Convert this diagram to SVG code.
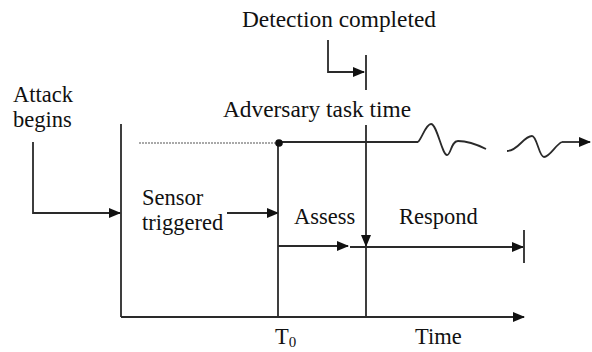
<svg xmlns="http://www.w3.org/2000/svg" width="592" height="352" viewBox="0 0 592 352">
<defs>
<marker id="ah" markerWidth="12" markerHeight="10" refX="11" refY="5" orient="auto" markerUnits="userSpaceOnUse">
<path d="M0,0 L12,5 L0,10 Z" fill="#111"/>
</marker>
<style>
.t{font-family:"Liberation Serif","Times New Roman",serif;font-size:22.5px;fill:#111}
.l{stroke:#2a2a2a;stroke-width:1.8;fill:none}
.a{stroke:#2a2a2a;stroke-width:1.8;fill:none;marker-end:url(#ah)}
</style>
</defs>
<rect width="592" height="352" fill="#fff"/>
<g id="axes">
<path class="l" d="M121,124 V317"/>
<path class="a" d="M121,317 H524"/>
</g>
<g id="connectors">
<path class="a" d="M33,142 V213 H120"/>
<path class="a" d="M227,213 H278"/>
<path class="l" d="M278,143 V317"/>
<path d="M139,143 H278" stroke="#555" stroke-width="1.2" stroke-dasharray="2,1"/>
<path class="l" d="M279,142 H418"/>
<path class="l" d="M418,142 C422,138 426,124 431,124 C437,124 442,155 447,155 C451,155 451,141 458,141 C467,141 476,144 486,149"/>
<path class="l" d="M507,151 C512,151 516,148 521,143 C525,139 528,136 532,136 C537,136 539,157 544,157 C550,157 556,144 562,142"/>
<path class="a" d="M562,142 H590"/>
<circle cx="279" cy="143" r="3.8" fill="#111"/>
<path class="a" d="M328,40 V72 H364"/>
<path class="l" d="M366,55 V90"/>
<path class="a" d="M366,125 V246"/>
<path class="l" d="M366,246 V317"/>
<path class="a" d="M278,246 H348"/>
<path class="a" d="M350,247 H523"/>
<path class="l" d="M524,230 V263"/>
</g>
<g id="labels">
<text class="t" x="242" y="27" textLength="194" lengthAdjust="spacingAndGlyphs">Detection completed</text>
<text class="t" x="13" y="102">Attack</text>
<text class="t" x="13" y="127">begins</text>
<text class="t" x="223" y="117" textLength="188" lengthAdjust="spacingAndGlyphs">Adversary task time</text>
<text class="t" x="142" y="205">Sensor</text>
<text class="t" x="142" y="230">triggered</text>
<text class="t" x="294" y="224">Assess</text>
<text class="t" x="399" y="224">Respond</text>
<text class="t" x="275" y="344">T<tspan font-size="15" dy="3">0</tspan></text>
<text class="t" x="415" y="344">Time</text>
</g>
</svg>
